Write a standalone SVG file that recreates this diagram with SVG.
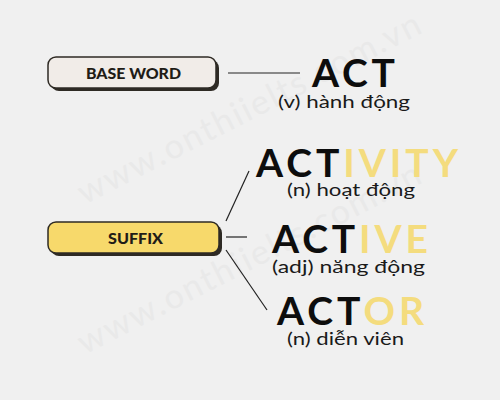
<svg xmlns="http://www.w3.org/2000/svg" width="500" height="400" viewBox="0 0 500 400">
<style>
.bg{fill:#f0f0f0}
.shadow{fill:#2e2a24}
.box{stroke:#2e2a24;stroke-width:1.5}
.lbl{font-family:"Lato","Liberation Sans",sans-serif;font-weight:900;font-size:15px;fill:#1f1c17}
.word{font-family:"Lato","Liberation Sans",sans-serif;font-weight:700;font-size:39px;fill:#0d0d0d}
.suf{fill:#f4dc7e}
.sub{font-family:"Lato","Liberation Sans",sans-serif;font-size:18px;fill:#1a1a1a}
.wm{font-family:"Lato","Liberation Sans",sans-serif;font-size:34px;fill:#e9e9e9;letter-spacing:2px}
.conn{stroke:#222;stroke-width:1.2;fill:none}
</style>
<rect class="bg" x="0" y="0" width="500" height="400"/>
<g id="watermark">
<text class="wm" transform="translate(255,118) rotate(-27)" text-anchor="middle">www.onthiielts.com.vn</text>
<text class="wm" transform="translate(255,268) rotate(-27)" text-anchor="middle">www.onthiielts.com.vn</text>
</g>
<g id="connectors">
<line class="conn" x1="228" y1="73" x2="300" y2="73"/>
<line class="conn" x1="226" y1="221" x2="249" y2="171"/>
<line class="conn" x1="226" y1="237" x2="247" y2="237"/>
<line class="conn" x1="226" y1="250" x2="267" y2="310"/>
</g>
<g id="base-word">
<rect class="shadow" x="51" y="60" width="168" height="31" rx="8"/>
<rect class="box" x="48" y="57" width="168" height="31" rx="8" fill="#f1ece8"/>
<text class="lbl" x="86" y="78.5" textLength="95" lengthAdjust="spacingAndGlyphs">BASE WORD</text>
</g>
<g id="suffix">
<rect class="shadow" x="51" y="225" width="171" height="31" rx="8"/>
<rect class="box" x="48" y="222" width="171" height="31" rx="8" fill="#f7d96b"/>
<text class="lbl" x="108" y="243.5" textLength="55" lengthAdjust="spacingAndGlyphs">SUFFIX</text>
</g>
<g id="act">
<text class="word" x="312" y="87" textLength="83" lengthAdjust="spacing">ACT</text>
<text class="sub" x="278" y="108" textLength="132" lengthAdjust="spacingAndGlyphs">(v) hành động</text>
</g>
<g id="activity">
<text class="word" x="256" y="177" textLength="202" lengthAdjust="spacing">ACT<tspan class="suf">IVITY</tspan></text>
<text class="sub" x="287" y="196" textLength="128" lengthAdjust="spacingAndGlyphs">(n) hoạt động</text>
</g>
<g id="active">
<text class="word" x="272" y="253" textLength="156" lengthAdjust="spacing">ACT<tspan class="suf">IVE</tspan></text>
<text class="sub" x="272" y="273" textLength="153" lengthAdjust="spacingAndGlyphs">(adj) năng động</text>
</g>
<g id="actor">
<text class="word" x="277" y="325" textLength="147" lengthAdjust="spacing">ACT<tspan class="suf">OR</tspan></text>
<text class="sub" x="287" y="345" textLength="117" lengthAdjust="spacingAndGlyphs">(n) diễn viên</text>
</g>
</svg>
